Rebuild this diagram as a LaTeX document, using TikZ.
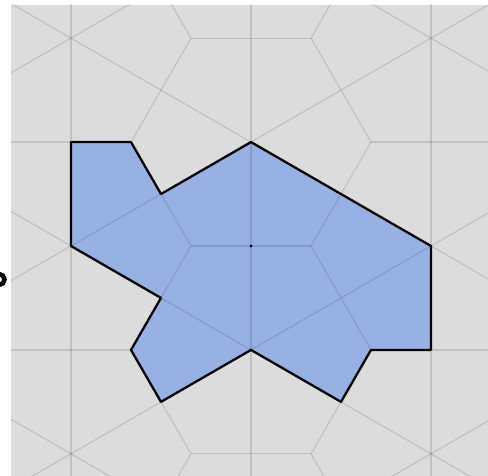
\documentclass[tikz,border=0pt]{standalone}
\definecolor{bggrey}{HTML}{DCDCDC}
\definecolor{tileblue}{HTML}{97B1E5}
\tikzset{
  tileline/.style={draw=black, draw opacity=0.12, line width=1.2pt},
  outline/.style={draw=black, line width=2.3pt, line join=round},
}
\begin{document}
\begin{tikzpicture}[x=1pt,y=-1pt]
\useasboundingbox (0,0) rectangle (488,476);
\fill[white] (0,0) rectangle (488,476);
\fill[bggrey] (11,5) rectangle (488,476);
% partial black glyph at the left border
\begin{scope}
  \clip (0,260) rectangle (11,300);
  \draw[line width=4.5pt] (-1,279.5) ellipse [x radius=5.5, y radius=5.5];
\end{scope}
\begin{scope}
\clip (11,5) rectangle (488,476);
\begin{scope}[shift={(251,246)}, x=30pt, y=-51.96pt]
  % polygon
  \coordinate (p1) at (-6,-2);
  \coordinate (p2) at (-4,-2);
  \coordinate (p3) at (-3,-1);
  \coordinate (p4) at (0,-2);
  \coordinate (p5) at (6,0);
  \coordinate (p6) at (6,2);
  \coordinate (p7) at (4,2);
  \coordinate (p8) at (3,3);
  \coordinate (p9) at (0,2);
  \coordinate (p10) at (-3,3);
  \coordinate (p11) at (-4,2);
  \coordinate (p12) at (-3,1);
  \coordinate (p13) at (-6,0);
  \fill[tileblue] (p1) -- (p2) -- (p3) -- (p4) -- (p5) -- (p6) -- (p7) -- (p8) -- (p9) -- (p10) -- (p11) -- (p12) -- (p13) -- cycle;
  % vertical lines
  \foreach \X in {-6,0,6} \draw[tileline] (\X,-6) -- (\X,6);
  % long 30 degree lines
  \foreach \c in {-6,-2,2,6} {
    \draw[tileline] (-9,\c-3) -- (9,\c+3);
    \draw[tileline] (-9,\c+3) -- (9,\c-3);
  }
  % horizontal segments
  \foreach \Y in {-4,0,4} \draw[tileline] (-2,\Y) -- (2,\Y);
  \foreach \Y in {-2,2} {
    \draw[tileline] (-8,\Y) -- (-4,\Y);
    \draw[tileline] (4,\Y) -- (8,\Y);
  }
  % 60 degree segments
  \foreach \Y in {-4,0,4} {
    \draw[tileline] (-4,\Y-2) -- (-2,\Y) -- (-4,\Y+2);
    \draw[tileline] (4,\Y-2) -- (2,\Y) -- (4,\Y+2);
  }
  % outline
  \draw[outline] (p1) -- (p2) -- (p3) -- (p4) -- (p5) -- (p6) -- (p7) -- (p8) -- (p9) -- (p10) -- (p11) -- (p12) -- (p13) -- cycle;
  % centre dot
  \fill[black] (0,0) circle [radius=1.6pt];
\end{scope}
\end{scope}
\end{tikzpicture}
\end{document}
